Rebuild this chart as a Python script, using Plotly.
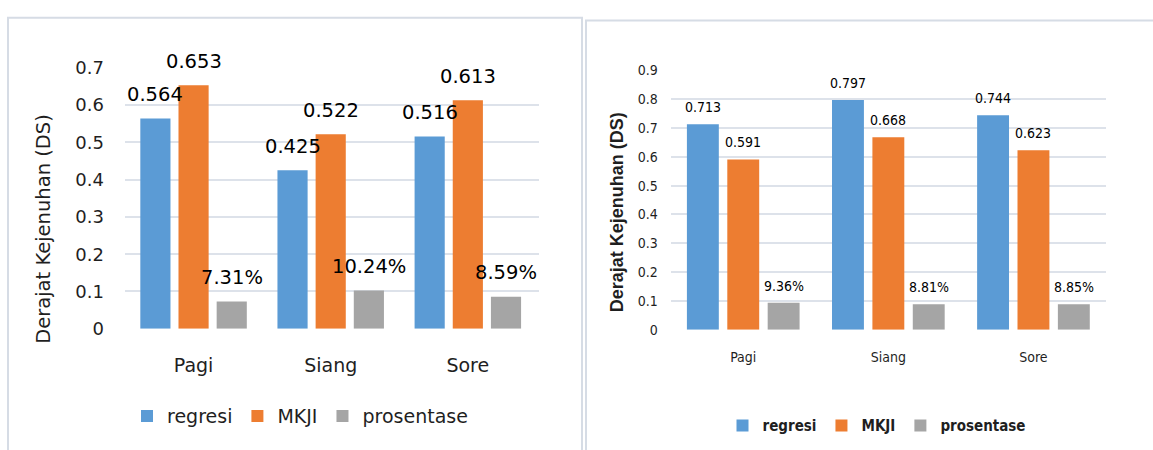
import plotly.graph_objects as go

W, H = 1153, 450

categories = ["Pagi", "Siang", "Sore"]
series_names = ["regresi", "MKJI", "prosentase"]

# left panel values
left_regresi = [0.564, 0.425, 0.516]
left_mkji = [0.653, 0.522, 0.613]
left_prosentase = [0.0731, 0.1024, 0.0859]

# right panel values
right_regresi = [0.713, 0.797, 0.744]
right_mkji = [0.591, 0.668, 0.623]
right_prosentase = [0.0936, 0.0881, 0.0885]

y_title = "Derajat Kejenuhan (DS)"
colors = ["#5B9BD5", "#ED7D31", "#A5A5A5"]

BARGAP = 0.165
BARGROUPGAP = 0.21
SLOT = (1 - BARGAP) / 3

LEFT_FONT = "DejaVu Sans"
RIGHT_FONT = "Liberation Sans Narrow, DejaVu Sans Condensed, sans-serif"
GRID = "#DDE2EA"
TXT = "#1f1f1f"


def px_x(x):
    return x / W


def px_y(y):
    return 1 - y / H


def fmt(name, v):
    return f"{v * 100:.2f}%" if name == "prosentase" else f"{v:.3f}"


fig = go.Figure()
annotations = []

panels = [
    dict(xa="x", ya="y", legend="legend",
         data=[left_regresi, left_mkji, left_prosentase],
         font=LEFT_FONT, size=19.5, shift=24),
    dict(xa="x2", ya="y2", legend="legend2",
         data=[right_regresi, right_mkji, right_prosentase],
         font=RIGHT_FONT, size=14, shift=17),
]

for p in panels:
    for j, (name, vals) in enumerate(zip(series_names, p["data"])):
        fig.add_trace(go.Bar(
            x=categories, y=vals, name=name,
            marker=dict(color=colors[j], line=dict(width=0)),
            xaxis=p["xa"], yaxis=p["ya"], legend=p["legend"],
        ))
        for i, v in enumerate(vals):
            annotations.append(dict(
                x=i + (j - 1) * SLOT, y=v, xref=p["xa"], yref=p["ya"],
                text=fmt(name, v), showarrow=False,
                xanchor="center", yanchor="middle", yshift=p["shift"],
                font=dict(family=p["font"], size=p["size"], color="#000"),
            ))

# vertical axis titles
annotations.append(dict(
    x=px_x(43.5), y=px_y(229), xref="paper", yref="paper",
    text=y_title, textangle=-90, showarrow=False,
    xanchor="center", yanchor="middle",
    font=dict(family=LEFT_FONT, size=19.5, color=TXT),
))
annotations.append(dict(
    x=px_x(616.5), y=px_y(211.7), xref="paper", yref="paper",
    text=f"<b>{y_title}</b>", textangle=-90, showarrow=False,
    xanchor="center", yanchor="middle",
    font=dict(family="Liberation Sans, Arial, sans-serif", size=18, color=TXT),
))

# panel frames
shapes = [
    dict(type="rect", xref="paper", yref="paper",
         x0=px_x(8), x1=px_x(582), y0=px_y(470), y1=px_y(7),
         line=dict(color="#D6DCE5", width=2), layer="below"),
    dict(type="rect", xref="paper", yref="paper",
         x0=px_x(586), x1=px_x(1180), y0=px_y(470), y1=px_y(10),
         line=dict(color="#D6DCE5", width=2), layer="below"),
]

axis_common = dict(showline=False, ticks="", zeroline=False)

fig.update_layout(
    width=W, height=H,
    margin=dict(l=0, r=0, t=0, b=0),
    paper_bgcolor="white", plot_bgcolor="white",
    barmode="group", bargap=BARGAP, bargroupgap=BARGROUPGAP,
    showlegend=True,
    xaxis=dict(domain=[px_x(125), px_x(539)], anchor="y",
               tickfont=dict(family=LEFT_FONT, size=19, color=TXT),
               ticklabelstandoff=23, showgrid=False, **axis_common),
    yaxis=dict(domain=[px_y(333.3), px_y(59.6)], anchor="x",
               range=[0, 0.7], dtick=0.1, showgrid=True, gridcolor=GRID,
               gridwidth=1.5,
               tickfont=dict(family=LEFT_FONT, size=18, color=TXT),
               ticklabelstandoff=20, **axis_common),
    xaxis2=dict(domain=[px_x(670.7), px_x(1106)], anchor="y2",
                tickfont=dict(family=RIGHT_FONT, size=14, color=TXT),
                ticklabelstandoff=17, showgrid=False, **axis_common),
    yaxis2=dict(domain=[px_y(334.3), px_y(62.3)], anchor="x2",
                range=[0, 0.9], dtick=0.1, showgrid=True, gridcolor=GRID,
                gridwidth=1.5,
                tickfont=dict(family=RIGHT_FONT, size=14, color=TXT),
                ticklabelstandoff=12, **axis_common),
    legend=dict(orientation="h", x=px_x(300), y=px_y(425),
                xanchor="center", yanchor="middle",
                bgcolor="rgba(0,0,0,0)",
                font=dict(family=LEFT_FONT, size=19, color=TXT)),
    legend2=dict(orientation="h", x=px_x(877), y=px_y(435),
                 xanchor="center", yanchor="middle",
                 bgcolor="rgba(0,0,0,0)",
                 font=dict(family=RIGHT_FONT, size=15, color=TXT,
                           weight="bold")),
    annotations=annotations,
    shapes=shapes,
)

fig.write_html("out.html")
